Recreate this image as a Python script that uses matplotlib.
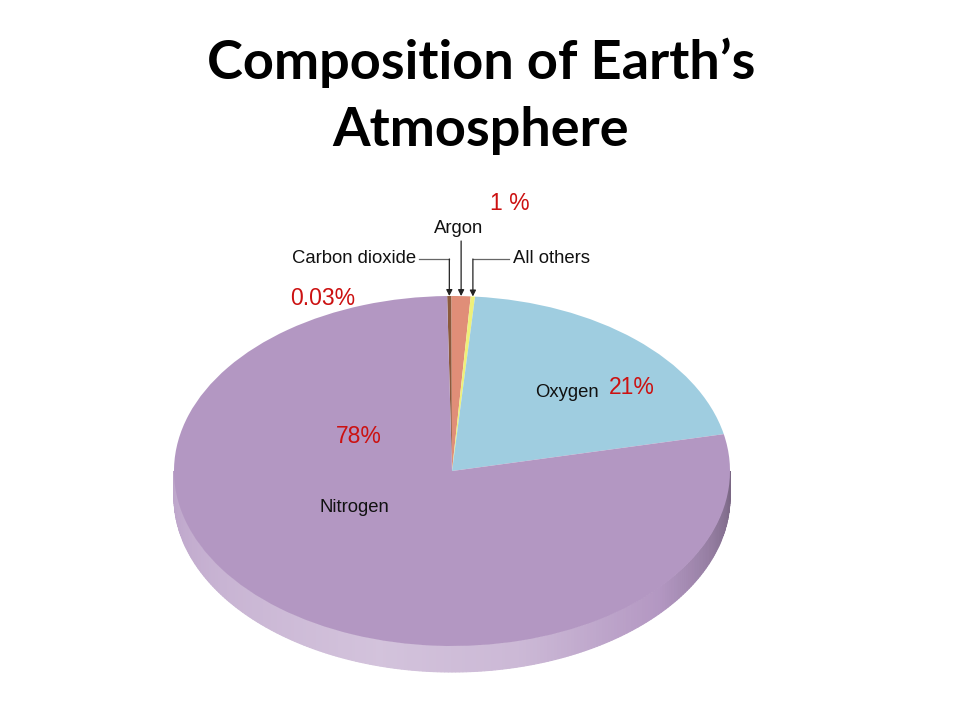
import numpy as np
import matplotlib
matplotlib.use('Agg')
import matplotlib.pyplot as plt
from matplotlib.patches import Polygon

# ---- data (wedge sizes as drawn in the picture) ----
labels = ['Carbon dioxide', 'Argon', 'All others', 'Oxygen', 'Nitrogen']
values = [0.25, 1.1, 0.25, 20.3, 78.1]
colors = ['#8b5a3c', '#e08e78', '#eef07a', '#9fcde0', '#b397c2']
pct_labels = ['0.03%', '1 %', '21%', '78%']
title_lines = ['Composition of Earth\u2019s', 'Atmosphere']

W, H = 960, 720
CX, CY, RX, RY, DEPTH = 452, 471, 278, 175, 26
START = 91

fig = plt.figure(figsize=(9.6, 7.2), dpi=100)
fig.patch.set_facecolor('white')
ax = fig.add_axes([0, 0, 1, 1])

wedges, _ = ax.pie(values, colors=colors, startangle=START, counterclock=False,
                   radius=1, center=(0, 0), wedgeprops=dict(linewidth=0))
for w in wedges:
    w.set_zorder(2)
ax.set_aspect('auto')
ax.set_xlim(-CX / RX, (W - CX) / RX)
ax.set_ylim((CY - H) / RY, CY / RY)
ax.axis('off')

# wedge angle boundaries (math degrees, clockwise from START)
total = sum(values)
cum = np.concatenate([[0], np.cumsum(values)]) / total * 360.0
starts = START - cum[:-1]
ends = START - cum[1:]
mids = (starts + ends) / 2


def wedge_index(phi):
    for i in range(len(values)):
        a = (starts[i] - phi) % 360
        if a <= (starts[i] - ends[i]):
            return i
    return len(values) - 1


# side shading stops: angle -> lightness (positive = toward white, negative = darker)
stop_ang = [180, 215, 255, 285, 305, 325, 345, 360]
stop_s = [0.12, 0.28, 0.42, 0.32, 0.12, -0.06, -0.22, -0.32]


def shade(rgb, s):
    rgb = np.array(rgb)
    if s >= 0:
        return tuple(rgb + (1 - rgb) * s)
    return tuple(rgb * (1 + s))


d = DEPTH / RY
angs = np.linspace(180, 360, 241)
for a, b in zip(angs[:-1], angs[1:]):
    m = (a + b) / 2
    i = wedge_index(m)
    base = matplotlib.colors.to_rgb(colors[i])
    c = shade(base, float(np.interp(m, stop_ang, stop_s)))
    ra, rb = np.radians(a), np.radians(b)
    poly = Polygon([(np.cos(ra), np.sin(ra)), (np.cos(rb), np.sin(rb)),
                    (np.cos(rb), np.sin(rb) - d), (np.cos(ra), np.sin(ra) - d)],
                   closed=True, facecolor=c, edgecolor=c, lw=0.8, zorder=1)
    ax.add_patch(poly)


def P(xp, yp):
    return ((xp - CX) / RX, (CY - yp) / RY)


# ---- title ----
tfont = dict(family='Lato', weight='bold', fontsize=39, color='black',
             ha='center', va='baseline')
fig.text(481 / W, 1 - 79 / H, title_lines[0], **tfont)
fig.text(481 / W, 1 - 146 / H, title_lines[1], **tfont)

lab = dict(family='Liberation Sans', fontsize=13.3, color='#111111')
red = dict(family='Liberation Sans', fontsize=16.5, color='#cc1111')

# ---- leader lines with arrows to the small wedges ----
line_c = '#666666'
arrow_kw = dict(arrowstyle='-|>', color='#222222', lw=0.9, mutation_scale=9,
                shrinkA=0, shrinkB=0)
tops = [(np.cos(np.radians(mids[i])), np.sin(np.radians(mids[i]))) for i in range(3)]

# Carbon dioxide
x0, y0 = P(419, 259)
tx, ty = tops[0]
ax.plot([x0, tx], [y0, y0], color=line_c, lw=0.9, zorder=3)
ax.annotate('', xy=(tx, ty), xytext=(tx, y0), arrowprops=arrow_kw, zorder=3)
# Argon
tx, ty = tops[1]
_, ya = P(0, 241)
ax.annotate('', xy=(tx, ty), xytext=(tx, ya), arrowprops=arrow_kw, zorder=3)
# All others
x2, y2 = P(509, 259)
tx, ty = tops[2]
ax.plot([x2, tx], [y2, y2], color=line_c, lw=0.9, zorder=3)
ax.annotate('', xy=(tx, ty), xytext=(tx, y2), arrowprops=arrow_kw, zorder=3)

ax.text(*P(416, 259), labels[0], ha='right', va='center', **lab)
ax.text(*P(459, 229), labels[1], ha='center', va='center', **lab)
ax.text(*P(513, 259), labels[2], ha='left', va='center', **lab)
ax.text(*P(567, 393), labels[3], ha='center', va='center', zorder=4, **lab)
ax.text(*P(354, 507), labels[4], ha='center', va='center', zorder=4, **lab)

ax.text(*P(290, 299), pct_labels[0], ha='left', va='center', zorder=4, **red)
ax.text(*P(510, 204), pct_labels[1], ha='center', va='center', **red)
ax.text(*P(632, 388), pct_labels[2], ha='center', va='center', zorder=4, **red)
ax.text(*P(359, 437), pct_labels[3], ha='center', va='center', zorder=4, **red)

fig.savefig('out.png', dpi=100, facecolor='white')
